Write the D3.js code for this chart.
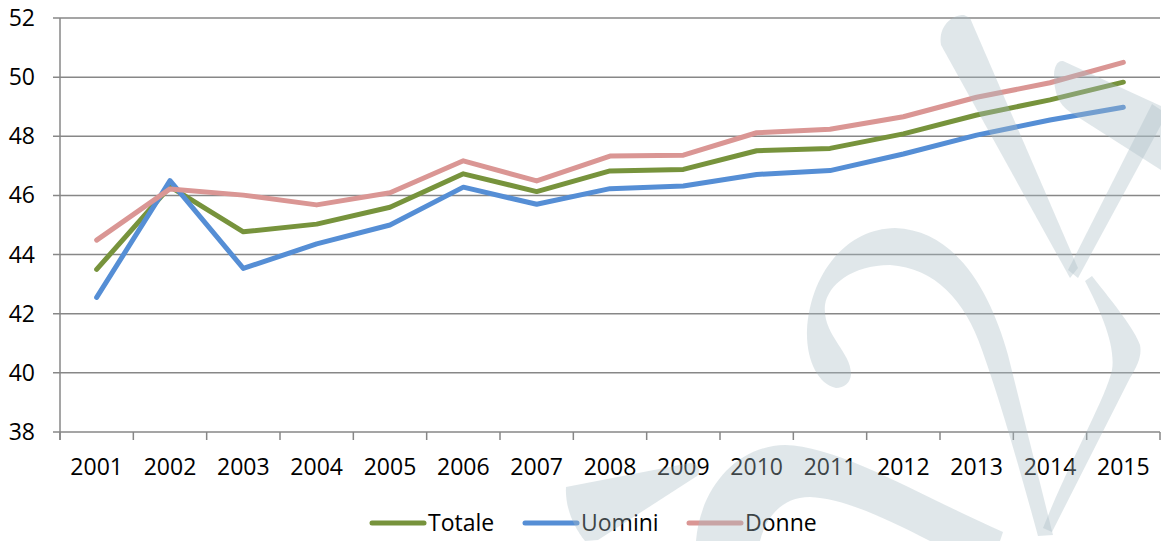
<!DOCTYPE html>
<html>
<head>
<meta charset="utf-8">
<script src="https://cdn.jsdelivr.net/npm/d3@7"></script>
<style>
  html, body { margin: 0; padding: 0; background: #fff; }
  svg { display: block; font-family: "Open Sans", "Noto Sans", sans-serif; }
</style>
</head>
<body>
<div id="chart"></div>
<script>
// data
const years = ["2001","2002","2003","2004","2005","2006","2007","2008","2009","2010","2011","2012","2013","2014","2015"];
const totale = [43.5, 46.3, 44.77, 45.03, 45.6, 46.73, 46.13, 46.83, 46.88, 47.51, 47.59, 48.08, 48.72, 49.23, 49.83];
const uomini = [42.55, 46.5, 43.53, 44.36, 45.0, 46.28, 45.7, 46.23, 46.32, 46.71, 46.84, 47.4, 48.04, 48.55, 48.98];
const donne = [44.49, 46.22, 46.01, 45.68, 46.09, 47.17, 46.49, 47.33, 47.36, 48.12, 48.24, 48.66, 49.32, 49.81, 50.5];
const yTicks = [38, 40, 42, 44, 46, 48, 50, 52];

const series = [
  { name: "Totale", values: totale, color: "#77933c" },
  { name: "Uomini", values: uomini, color: "#558ed5" },
  { name: "Donne", values: donne, color: "#da9694" }
];

const width = 1161, height = 541;
const plotLeft = 60, plotRight = 1160, plotTop = 18, plotBottom = 432;
const fontSize = 23;

const svg = d3.select("#chart").append("svg")
  .attr("width", width)
  .attr("height", height);

const x = d3.scaleBand().domain(years).range([plotLeft, plotRight]);
const y = d3.scaleLinear().domain([38, 52]).range([plotBottom, plotTop]);

// gridlines
svg.append("g")
  .selectAll("line")
  .data(yTicks)
  .enter().append("line")
  .attr("x1", plotLeft - 7)
  .attr("x2", plotRight)
  .attr("y1", d => y(d))
  .attr("y2", d => y(d))
  .attr("stroke", "#878787")
  .attr("stroke-width", 1.5);

// y axis line
svg.append("line")
  .attr("x1", plotLeft).attr("x2", plotLeft)
  .attr("y1", plotTop).attr("y2", plotBottom + 8)
  .attr("stroke", "#878787")
  .attr("stroke-width", 1.5);

// y labels
svg.append("g")
  .selectAll("text")
  .data(yTicks)
  .enter().append("text")
  .attr("x", 35)
  .attr("y", d => y(d))
  .attr("dy", "0.35em")
  .attr("text-anchor", "end")
  .attr("font-size", fontSize)
  .attr("fill", "#000")
  .text(d => d);

// x axis (category ticks between bands)
const xAxis = d3.axisBottom(x).tickSize(0).tickPadding(0);
const gx = svg.append("g")
  .attr("transform", `translate(0,${plotBottom})`)
  .call(xAxis);
gx.select(".domain").remove();
gx.selectAll("text")
  .attr("y", 43)
  .attr("dy", 0)
  .attr("font-size", fontSize)
  .attr("font-family", "'Open Sans', 'Noto Sans', sans-serif")
  .attr("fill", "#000");

const bounds = years.map(d => x(d)).concat([x(years[years.length - 1]) + x.bandwidth()]);
svg.append("g")
  .selectAll("line")
  .data(bounds)
  .enter().append("line")
  .attr("x1", d => d).attr("x2", d => d)
  .attr("y1", plotBottom).attr("y2", plotBottom + 8)
  .attr("stroke", "#878787")
  .attr("stroke-width", 1.5);

// lines
const line = d3.line()
  .x((d, i) => x(years[i]) + x.bandwidth() / 2)
  .y(d => y(d));

svg.append("g")
  .selectAll("path")
  .data(series)
  .enter().append("path")
  .attr("d", d => line(d.values))
  .attr("fill", "none")
  .attr("stroke", d => d.color)
  .attr("stroke-width", 5)
  .attr("stroke-linecap", "round")
  .attr("stroke-linejoin", "round");

// legend
const legendX = [370, 523, 687];
const legend = svg.append("g")
  .selectAll("g")
  .data(series)
  .enter().append("g")
  .attr("transform", (d, i) => `translate(${legendX[i]},523)`);

legend.append("line")
  .attr("x1", 2).attr("x2", 54)
  .attr("y1", 0).attr("y2", 0)
  .attr("stroke", d => d.color)
  .attr("stroke-width", 5)
  .attr("stroke-linecap", "round");

legend.append("text")
  .attr("x", 58)
  .attr("y", 0)
  .attr("dy", "0.35em")
  .attr("font-size", fontSize)
  .attr("fill", "#000")
  .text(d => d.name);

// watermark logo, drawn translucent over the plot
const marks = svg.append("g")
  .attr("fill", "#a9bcc4")
  .attr("fill-opacity", 0.36);

// big crescent
marks.append("path").attr("d",
  "M836,388 C818,384 806,360 807,330 C810,275 845,229 895,228 C955,230 990,290 1008,355 L1053,535 L1038,536 " +
  "C1020,470 1000,400 982,350 C965,300 935,268 890,265 C852,265 828,285 825,305 C822,335 852,352 851,375 C850,383 844,388 836,388 Z");

// left arm of the V
marks.append("path").attr("d",
  "M941,45 C938,28 950,15 964,15 L970,18 L1078,268 L1070,278 Z");

// right arm of the V
marks.append("path").attr("d",
  "M1068,270 L1152,104 L1161,110 L1161,125 L1078,278 Z");

// upper diagonal stroke on the right
marks.append("path").attr("d",
  "M1054,75 C1054,66 1058,60 1063,61 L1161,106 L1161,170 L1070,112 C1058,104 1054,92 1054,75 Z");

// lower right stroke
marks.append("path").attr("d",
  "M1085,281 L1092,276 C1115,305 1135,330 1140,345 C1142,355 1138,365 1130,378 L1052,532 L1043,528 C1070,460 1105,400 1112,370 C1116,345 1100,310 1085,281 Z");

// bottom crescent
marks.append("path").attr("d",
  "M696,541 C700,490 735,446 785,445 C840,446 925,498 1003,532 L1000,541 L930,541 " +
  "C880,515 840,498 810,497 C780,497 765,520 760,541 Z");

// bottom left wedge
marks.append("path").attr("d",
  "M566,487 L690,463 C698,463 702,470 697,476 L598,540 L585,541 C572,525 565,505 566,487 Z");
</script>
</body>
</html>
